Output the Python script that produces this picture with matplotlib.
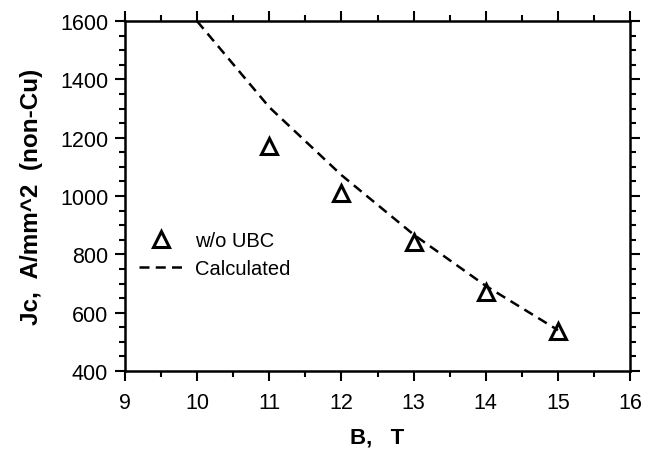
import matplotlib
matplotlib.use("Agg")
import matplotlib.pyplot as plt
from matplotlib.ticker import MultipleLocator

# measured points (w/o UBC)
b_meas = [11, 12, 13, 14, 15]
jc_meas = [1172, 1012, 842, 671, 537]

# calculated curve
b_calc = [10, 11, 12, 13, 14, 15]
jc_calc = [1600, 1305, 1072, 868, 692, 540]

plt.rcParams['font.family'] = ['Liberation Sans', 'DejaVu Sans']

fig = plt.figure(figsize=(6.47, 4.52), dpi=100)
ax = fig.add_axes([0.193, 0.177, 0.781, 0.774])

ax.plot(b_calc, jc_calc, linestyle=(0, (4, 2.5)), color='black', linewidth=1.8,
        label='Calculated')
ax.plot(b_meas, jc_meas, linestyle='none', marker='^', markersize=12,
        markerfacecolor='none', markeredgecolor='black', markeredgewidth=2.2,
        label='w/o UBC')

ax.set_xlim(9, 16)
ax.set_ylim(400, 1600)
ax.xaxis.set_major_locator(MultipleLocator(1))
ax.xaxis.set_minor_locator(MultipleLocator(0.5))
ax.yaxis.set_major_locator(MultipleLocator(200))
ax.yaxis.set_minor_locator(MultipleLocator(50))

for s in ax.spines.values():
    s.set_linewidth(1.8)

ax.tick_params(which='both', direction='out', top=True, right=True,
               labelsize=15.5, width=1.5)
ax.tick_params(which='major', length=7, pad=5)
ax.tick_params(which='minor', length=4)
ax.tick_params(axis='x', which='major', pad=8)

ax.set_xlabel('B,   T', fontsize=16, fontweight='bold', labelpad=10)
ax.set_ylabel('Jc,  A/mm^2  (non-Cu)', fontsize=17.5, fontweight='bold', labelpad=12)

h, l = ax.get_legend_handles_labels()
ax.legend([h[1], h[0]], [l[1], l[0]], loc='upper left',
          bbox_to_anchor=(0.0, 0.44), frameon=False, fontsize=14.5,
          handlelength=2.2, handletextpad=0.6, borderaxespad=0.3,
          labelspacing=0.45)

fig.savefig('out.png', dpi=100)
